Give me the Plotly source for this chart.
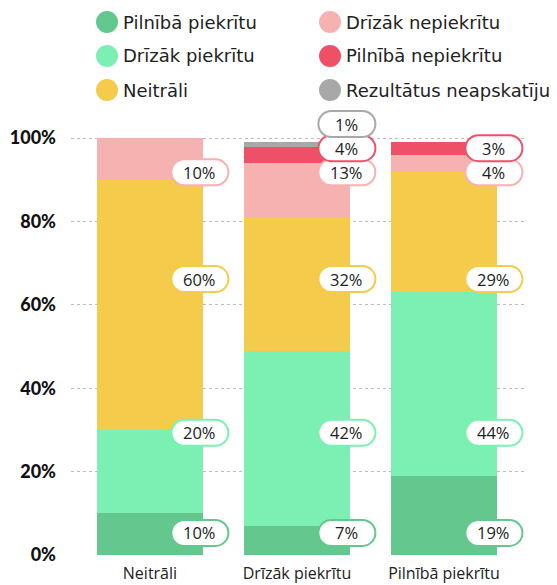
import plotly.graph_objects as go

# ---- data ----
categories = ["Neitrāli", "Drīzāk piekrītu", "Pilnībā piekrītu"]
series_names = ["Pilnībā piekrītu", "Drīzāk piekrītu", "Neitrāli",
                "Drīzāk nepiekrītu", "Pilnībā nepiekrītu", "Rezultātus neapskatīju"]
pilniba_piekritu = [10, 7, 19]
drizak_piekritu = [20, 42, 44]
neitrali = [60, 32, 29]
drizak_nepiekritu = [10, 13, 4]
pilniba_nepiekritu = [0, 4, 3]
rezultatus_neapskatiju = [0, 1, 0]
y_ticks = [0, 20, 40, 60, 80, 100]

series_values = [pilniba_piekritu, drizak_piekritu, neitrali,
                 drizak_nepiekritu, pilniba_nepiekritu, rezultatus_neapskatiju]

# ---- styles / positions ----
colors = ["#64C88E", "#7BF0B2", "#F5CB4B", "#F6B1B1", "#EE5068", "#A8A8A8"]
label_y = [5.3, 29.3, 66.2, 91.8, 97.6, 103.4]   # label placement (percent units)
BAR_W = 0.72
PILL_W, PILL_H = 57, 26
FONT = "'Open Sans', Inter, sans-serif"
LEG_FONT = "'DejaVu Sans', 'Open Sans', sans-serif"

# page has an 8px body margin, so the figure is slightly smaller
W, H = 549, 577
ML, MR, MT, MB = 63, 32, 101, 30
PW, PH = W - ML - MR, H - MT - MB

fig = go.Figure()
for name, vals, col in zip(series_names, series_values, colors):
    fig.add_trace(go.Bar(x=categories, y=vals, name=name, width=BAR_W,
                         marker=dict(color=col, line=dict(width=0)),
                         showlegend=False, hoverinfo="skip"))


def pill_path(w, h, dx):
    r = h / 2
    k = 0.5523 * r
    xl, xr = dx - w / 2 + r, dx + w / 2 - r
    return (f"M{xl},{-r} L{xr},{-r} "
            f"C{xr + k},{-r} {xr + r},{-k} {xr + r},0 "
            f"C{xr + r},{k} {xr + k},{r} {xr},{r} "
            f"L{xl},{r} "
            f"C{xl - k},{r} {xl - r},{k} {xl - r},0 "
            f"C{xl - r},{-k} {xl - k},{-r} {xl},{-r} Z")


shapes = []
annotations = []
for si, (vals, col) in enumerate(zip(series_values, colors)):
    for ci, v in enumerate(vals):
        if v <= 0:
            continue
        xa = ci + BAR_W / 2
        shapes.append(dict(type="path", xref="x", yref="y",
                           xsizemode="pixel", ysizemode="pixel",
                           xanchor=xa, yanchor=label_y[si],
                           path=pill_path(PILL_W, PILL_H, -3),
                           fillcolor="white", line=dict(color=col, width=2),
                           layer="above"))
        annotations.append(dict(x=xa, y=label_y[si], xref="x", yref="y",
                                text=f"{v}%", showarrow=False, xshift=-3,
                                xanchor="center", yanchor="middle",
                                font=dict(family=FONT, size=16.5, color="#222")))

# ---- custom legend (two columns of three rows), figure pixel coords ----
leg_cols_px = [99, 322]
leg_rows_px = [14, 48, 82]
for i, (name, col) in enumerate(zip(series_names, colors)):
    cx = leg_cols_px[i // 3]
    cy = leg_rows_px[i % 3]
    px = (cx - ML) / PW
    py = (H - MB - cy) / PH
    shapes.append(dict(type="circle", xref="paper", yref="paper",
                       xsizemode="pixel", ysizemode="pixel",
                       xanchor=px, yanchor=py, x0=-11, x1=11, y0=-11, y1=11,
                       fillcolor=col, line=dict(width=0)))
    annotations.append(dict(x=(cx + 14 - ML) / PW, y=py, xref="paper", yref="paper",
                            text=name, showarrow=False, xanchor="left", yanchor="middle",
                            font=dict(family=LEG_FONT, size=18, color="#222")))

fig.update_layout(
    width=W, height=H,
    margin=dict(l=ML, r=MR, t=MT, b=MB, autoexpand=False),
    barmode="stack",
    bargap=0,
    plot_bgcolor="white", paper_bgcolor="white",
    shapes=shapes, annotations=annotations,
    showlegend=False,
)
fig.update_xaxes(range=[-0.537, 2.551], showgrid=False, zeroline=False,
                 showline=False, ticks="", automargin=False,
                 ticklabelstandoff=7,
                 tickfont=dict(family=FONT, size=16, color="#222"))
fig.update_yaxes(range=[0, 107], tickvals=y_ticks, ticktext=[f"{t}%" for t in y_ticks],
                 showgrid=True, gridcolor="#BDBDBD", gridwidth=1, griddash="dot",
                 zeroline=False, showline=False, ticks="", automargin=False,
                 ticklabelstandoff=14,
                 tickfont=dict(family="Lato, 'Open Sans', sans-serif", size=18,
                               color="#111", weight=900))

fig.write_html("out.html")
